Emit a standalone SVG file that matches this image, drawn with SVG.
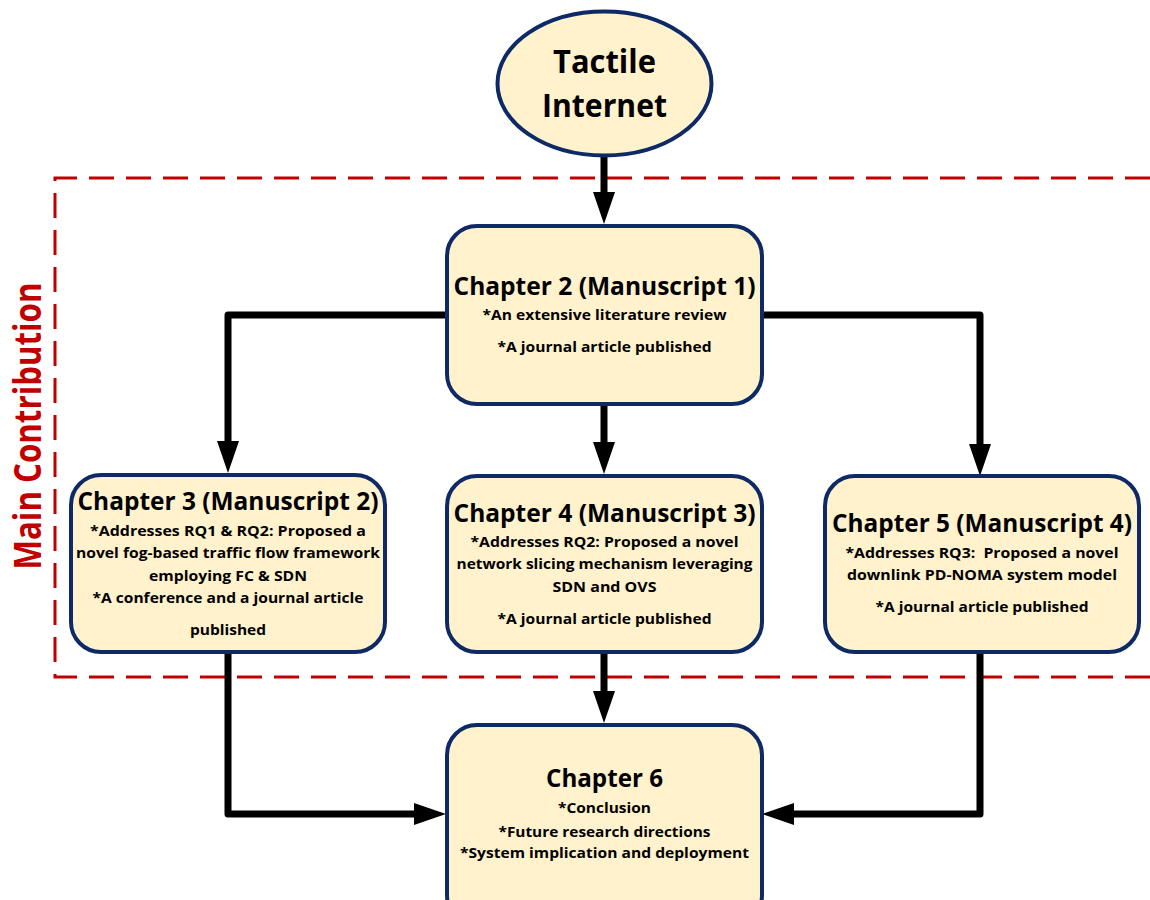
<svg xmlns="http://www.w3.org/2000/svg" width="1150" height="900" viewBox="0 0 1150 900">
  <style>
    .node { fill: #fff2cc; stroke: #0d2a66; stroke-width: 4; }
    .t { font-family: "Open Sans", "Liberation Sans", sans-serif; font-weight: 700; fill: #000; text-anchor: middle; }
    .h { font-size: 25px; }
    .s { font-size: 15px; }
    .big { font-size: 32px; }
    .wire { fill: none; stroke: #000; stroke-width: 7; stroke-linejoin: round; }
    .frame { fill: none; stroke: #c00000; stroke-width: 3; stroke-dasharray: 25 12; }
  </style>
  <defs>
    <marker id="head" viewBox="0 0 32 22" refX="1" refY="11" markerWidth="32" markerHeight="22" markerUnits="userSpaceOnUse" orient="auto">
      <path d="M0,0 L32,11 L0,22 Z" fill="#000"/>
    </marker>
  </defs>

  <rect width="1150" height="900" fill="#fff"/>

  <!-- main contribution frame -->
  <g id="frame">
    <path class="frame" d="M1150,178 H55 V677 H1150"/>
    <text transform="translate(41,426) rotate(-90)" font-family="Open Sans, Liberation Sans, sans-serif" font-weight="700" font-size="38" fill="#c00000" text-anchor="middle" textLength="287" lengthAdjust="spacingAndGlyphs">Main Contribution</text>
  </g>

  <!-- connectors -->
  <g id="connectors">
    <path class="wire" d="M604,157 V193" marker-end="url(#head)"/>
    <path class="wire" d="M446,315 H228 V442" marker-end="url(#head)"/>
    <path class="wire" d="M763,315 H980 V445" marker-end="url(#head)"/>
    <path class="wire" d="M604,405 V443" marker-end="url(#head)"/>
    <path class="wire" d="M228,653 V814 H415" marker-end="url(#head)"/>
    <path class="wire" d="M604,653 V692" marker-end="url(#head)"/>
    <path class="wire" d="M980,653 V814 H793" marker-end="url(#head)"/>
  </g>

  <g id="tactile">
    <ellipse class="node" cx="604.5" cy="83.5" rx="107" ry="72"/>
    <text class="t big" x="604.5" y="73" textLength="103" lengthAdjust="spacingAndGlyphs">Tactile</text>
    <text class="t big" x="604.5" y="117" textLength="125" lengthAdjust="spacingAndGlyphs">Internet</text>
  </g>

  <g id="ch2">
    <rect class="node" x="447" y="226" width="315" height="178" rx="30"/>
    <text class="t h" x="604.5" y="295" textLength="302" lengthAdjust="spacingAndGlyphs">Chapter 2 (Manuscript 1)</text>
    <text class="t s" x="604.5" y="320" textLength="244" lengthAdjust="spacingAndGlyphs">*An extensive literature review</text>
    <text class="t s" x="604.5" y="352" textLength="214" lengthAdjust="spacingAndGlyphs">*A journal article published</text>
  </g>

  <g id="ch3">
    <rect class="node" x="71" y="475" width="314" height="177" rx="30"/>
    <text class="t h" x="228" y="510" textLength="301" lengthAdjust="spacingAndGlyphs">Chapter 3 (Manuscript 2)</text>
    <text class="t s" x="228" y="536" textLength="276" lengthAdjust="spacingAndGlyphs">*Addresses RQ1 &amp; RQ2: Proposed a</text>
    <text class="t s" x="228" y="558" textLength="304" lengthAdjust="spacingAndGlyphs">novel fog-based traffic flow framework</text>
    <text class="t s" x="228" y="581" textLength="158" lengthAdjust="spacingAndGlyphs">employing FC &amp; SDN</text>
    <text class="t s" x="228" y="603" textLength="271" lengthAdjust="spacingAndGlyphs">*A conference and a journal article</text>
    <text class="t s" x="228" y="635" textLength="76" lengthAdjust="spacingAndGlyphs">published</text>
  </g>

  <g id="ch4">
    <rect class="node" x="447" y="476" width="315" height="176" rx="30"/>
    <text class="t h" x="604.5" y="522" textLength="302" lengthAdjust="spacingAndGlyphs">Chapter 4 (Manuscript 3)</text>
    <text class="t s" x="604.5" y="547" textLength="268" lengthAdjust="spacingAndGlyphs">*Addresses RQ2: Proposed a novel</text>
    <text class="t s" x="604.5" y="569" textLength="296" lengthAdjust="spacingAndGlyphs">network slicing mechanism leveraging</text>
    <text class="t s" x="604.5" y="592" textLength="104" lengthAdjust="spacingAndGlyphs">SDN and OVS</text>
    <text class="t s" x="604.5" y="624" textLength="214" lengthAdjust="spacingAndGlyphs">*A journal article published</text>
  </g>

  <g id="ch5">
    <rect class="node" x="825" y="476" width="314" height="176" rx="30"/>
    <text class="t h" x="982" y="532" textLength="300" lengthAdjust="spacingAndGlyphs">Chapter 5 (Manuscript 4)</text>
    <text class="t s" x="982" y="558" textLength="273" lengthAdjust="spacingAndGlyphs" xml:space="preserve">*Addresses RQ3:  Proposed a novel</text>
    <text class="t s" x="982" y="580" textLength="270" lengthAdjust="spacingAndGlyphs">downlink PD-NOMA system model</text>
    <text class="t s" x="982" y="612" textLength="213" lengthAdjust="spacingAndGlyphs">*A journal article published</text>
  </g>

  <g id="ch6">
    <rect class="node" x="447" y="725" width="315" height="200" rx="30"/>
    <text class="t h" x="604.5" y="787" textLength="117" lengthAdjust="spacingAndGlyphs">Chapter 6</text>
    <text class="t s" x="604.5" y="813" textLength="93" lengthAdjust="spacingAndGlyphs">*Conclusion</text>
    <text class="t s" x="604.5" y="837" textLength="212" lengthAdjust="spacingAndGlyphs">*Future research directions</text>
    <text class="t s" x="604.5" y="858" textLength="289" lengthAdjust="spacingAndGlyphs">*System implication and deployment</text>
  </g>
</svg>
